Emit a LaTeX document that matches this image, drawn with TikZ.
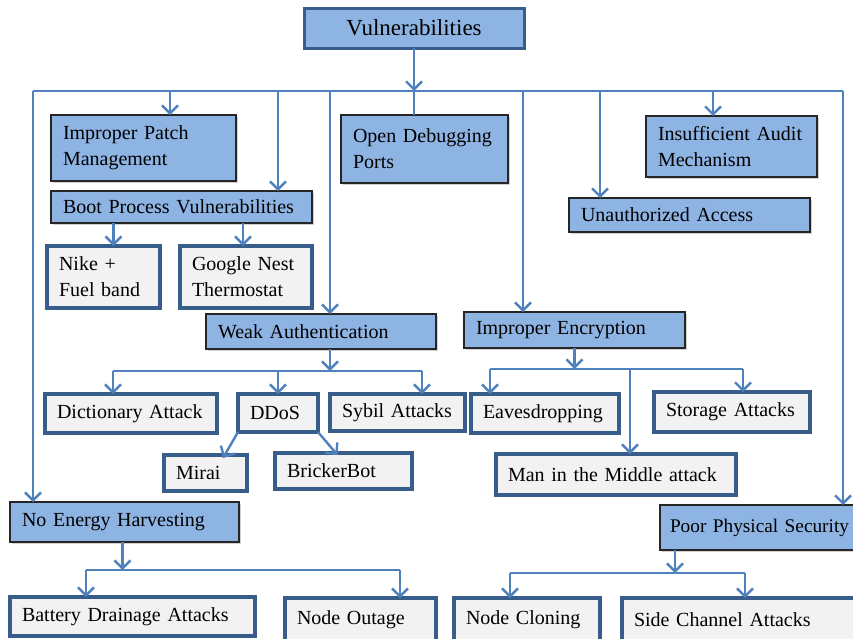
\documentclass[tikz,border=0pt]{standalone}
\usepackage{fontspec}
\setmainfont{Liberation Serif}
\usetikzlibrary{arrows.meta,shadows}

\definecolor{vulblue}{RGB}{142,180,227}
\definecolor{vulline}{RGB}{79,129,189}
\definecolor{vuldark}{RGB}{56,93,138}
\definecolor{vulgray}{RGB}{242,242,242}
\newcommand{\vulfont}{\fontsize{20}{26}\selectfont}

\tikzset{
	catbox/.style={draw=black!85, fill=vulblue, line width=1.3pt, anchor=north west,
		inner xsep=12pt, inner ysep=0pt, outer sep=0pt, align=left, font=\vulfont,
		drop shadow={shadow xshift=2pt, shadow yshift=-2pt, opacity=0.3, fill=black!60}},
	attbox/.style={draw=vuldark, fill=vulgray, line width=3.5pt, anchor=north west,
		inner xsep=12pt, inner ysep=0pt, outer sep=0pt, align=left, font=\vulfont},
	link/.style={draw=vulline, line width=2.4pt},
	linkarr/.style={link, -{Straight Barb[length=8pt,width=16pt]}}}

\begin{document}
\begin{tikzpicture}[x=1pt,y=1pt,yscale=-1,xscale=1]
	\useasboundingbox (0,0) rectangle (853,638);

	%Shape: Root
	\node [draw=vuldark, fill=vulblue, line width=3pt, anchor=north west, outer sep=0pt, minimum width=220pt, minimum height=40pt, font=\fontsize{23}{28}\selectfont] (vul) at (304,8) {Vulnerabilities};

	%Shape: Categories
	\node [catbox, text width=161pt, minimum height=66pt] (ipm) at (51,115) {Improper Patch\\Management};
	\node [catbox, text width=237pt, minimum height=32pt] (bpv) at (51,191) {Boot Process Vulnerabilities};
	\node [catbox, text width=143pt, minimum height=68pt] (odp) at (341,115) {Open Debugging\\Ports};
	\node [catbox, text width=147pt, minimum height=61pt] (iam) at (646,116) {Insufficient Audit\\Mechanism};
	\node [catbox, text width=217pt, minimum height=34pt] (ua) at (569,198) {Unauthorized Access};
	\node [catbox, text width=206pt, minimum height=35pt] (wa) at (206,314) {Weak Authentication};
	\node [catbox, text width=197pt, minimum height=36pt] (ie) at (464,312) {Improper Encryption};
	\node [catbox, text width=205pt, minimum height=40pt] (neh) at (10,502) {No Energy Harvesting};
	\node [catbox, text width=200pt, minimum height=45pt, inner xsep=10pt, font=\fontsize{19.3}{26}\selectfont] (pps) at (660,505) {Poor Physical Security};

	%Shape: Attacks
	\node [attbox, text width=89pt, minimum height=62pt] (nike) at (47,246) {Nike +\\Fuel band};
	\node [attbox, text width=108pt, minimum height=62pt] (nest) at (180,246) {Google Nest\\Thermostat};
	\node [attbox, text width=148pt, minimum height=39pt] (dict) at (45,394) {Dictionary Attack};
	\node [attbox, text width=56pt, minimum height=38pt] (ddos) at (238,394) {DDoS};
	\node [attbox, text width=111pt, minimum height=37pt] (sybil) at (330,394) {Sybil Attacks};
	\node [attbox, text width=59pt, minimum height=36pt] (mirai) at (164,455) {Mirai};
	\node [attbox, text width=113pt, minimum height=36pt] (bricker) at (275,453) {BrickerBot};
	\node [attbox, text width=124pt, minimum height=39pt] (eaves) at (471,394) {Eavesdropping};
	\node [attbox, text width=132pt, minimum height=40pt] (storage) at (654,392) {Storage Attacks};
	\node [attbox, text width=216pt, minimum height=41pt] (mitm) at (496,454) {Man in the Middle attack};
	\node [attbox, text width=221pt, minimum height=39pt] (battery) at (10,597) {Battery Drainage Attacks};
	\node [attbox, text width=127pt, minimum height=44pt] (outage) at (285,598) {Node Outage};
	\node [attbox, text width=122pt, minimum height=44pt] (cloning) at (454,598) {Node Cloning};
	\node [attbox, text width=211pt, minimum height=44pt] (sidech) at (622,598) {Side Channel Attacks};

	%Bus points
	\coordinate (bL) at (33,91);
	\coordinate (b1) at (170,91);
	\coordinate (b2) at (278,91);
	\coordinate (b3) at (330,91);
	\coordinate (bv) at (414,91);
	\coordinate (b5) at (523,91);
	\coordinate (b6) at (600,91);
	\coordinate (b7) at (713,91);
	\coordinate (bR) at (843,91);
	\coordinate (wL) at (113,371);
	\coordinate (wR) at (422,371);
	\coordinate (eL) at (490,369);
	\coordinate (eM) at (630,369);
	\coordinate (eR) at (743,369);
	\coordinate (nL) at (86,570);
	\coordinate (nR) at (400,570);
	\coordinate (pL) at (510,573);
	\coordinate (pR) at (745,573);

	%Straight Lines: top level
	\draw [linkarr] (bv |- vul.south) -- (bv);
	\draw [link] (bL) -- (bR);
	\draw [link] (bv) -- (bv |- odp.north);
	\draw [linkarr] (bL) -- (bL |- neh.north);
	\draw [linkarr] (bR) -- (bR |- pps.north);
	\draw [linkarr] (b1) -- (b1 |- ipm.north);
	\draw [linkarr] (b2) -- (b2 |- bpv.north);
	\draw [linkarr] (b3) -- (b3 |- wa.north);
	\draw [linkarr] (b5) -- (b5 |- ie.north);
	\draw [linkarr] (b6) -- (b6 |- ua.north);
	\draw [linkarr] (b7) -- (b7 |- iam.north);

	%Straight Lines: boot process
	\draw [linkarr] ([xshift=10pt]nike.north |- bpv.south) -- ([xshift=10pt]nike.north);
	\draw [linkarr] ([xshift=-3pt]nest.north |- bpv.south) -- ([xshift=-3pt]nest.north);

	%Straight Lines: weak authentication
	\draw [linkarr] (b3 |- wa.south) -- (b3 |- wL);
	\draw [link] (wL) -- (wR);
	\draw [linkarr] (wL) -- (wL |- dict.north);
	\draw [linkarr] (ddos.north |- wL) -- (ddos.north);
	\draw [linkarr] (wR) -- (wR |- sybil.north);
	\draw [linkarr] (ddos.south west) -- ([xshift=-24pt,yshift=3pt]mirai.north east);
	\draw [linkarr] (ddos.south east) -- ([xshift=-6pt,yshift=2pt]bricker.north);

	%Straight Lines: improper encryption
	\draw [linkarr] (ie.south) -- (ie.south |- eL);
	\draw [link] (eL) -- (eR);
	\draw [linkarr] (eL) -- (eL |- eaves.north);
	\draw [linkarr] (eM) -- (eM |- mitm.north);
	\draw [linkarr] (eR) -- (eR |- storage.north);

	%Straight Lines: energy harvesting
	\draw [linkarr] ([xshift=-2pt]neh.south) -- ([xshift=-2pt]neh.south |- nL);
	\draw [link] (nL) -- (nR);
	\draw [linkarr] (nL) -- (nL |- battery.north);
	\draw [linkarr] (nR) -- (nR |- outage.north);

	%Straight Lines: physical security
	\draw [linkarr] ([xshift=15pt]pps.south west) -- ([xshift=15pt]pps.south west |- pL);
	\draw [link] (pL) -- (pR);
	\draw [linkarr] (pL) -- (pL |- cloning.north);
	\draw [linkarr] (pR) -- (pR |- sidech.north);

\end{tikzpicture}
\end{document}
